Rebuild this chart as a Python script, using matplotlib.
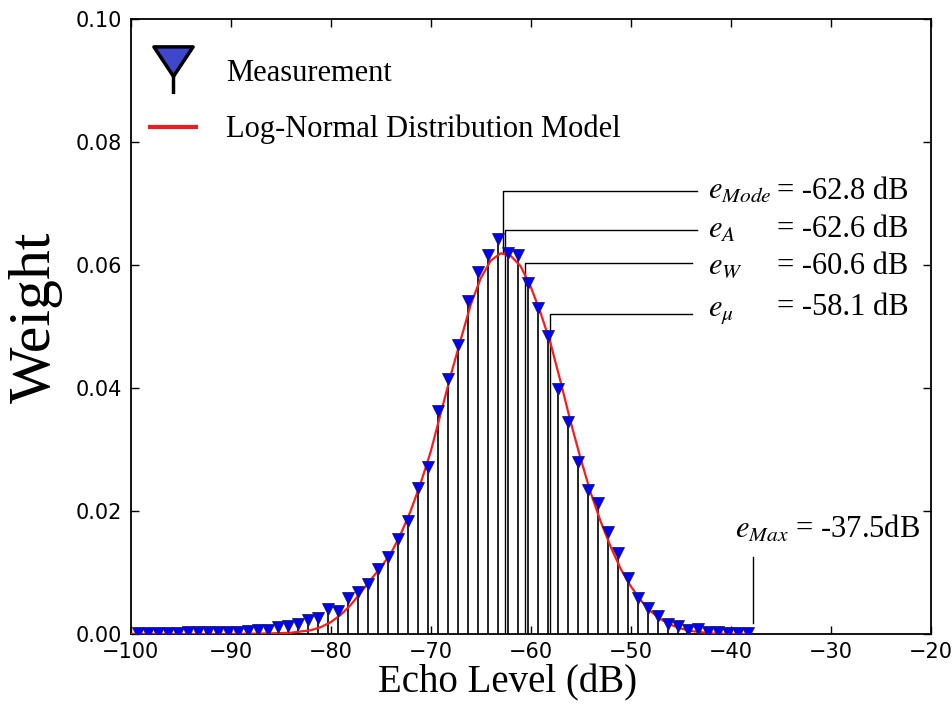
import numpy as np
import matplotlib
matplotlib.use("Agg")
from matplotlib import pyplot as plt
from matplotlib.lines import Line2D
from matplotlib.path import Path

# measured weights per echo-level bin (dB)
echo_level = [-99.3 + k for k in range(62)]
weight = [0.0002, 0.0002, 0.0002, 0.0002, 0.0002, 0.0004, 0.0004, 0.0004, 0.0004, 0.0004,
          0.0004, 0.0005, 0.0007, 0.0007, 0.0012, 0.0013, 0.0016, 0.0023, 0.0026, 0.0040,
          0.0037, 0.0058, 0.0069, 0.0081, 0.0105, 0.0126, 0.0155, 0.0184, 0.0237, 0.0272,
          0.0363, 0.0414, 0.0470, 0.0542, 0.0589, 0.0617, 0.0642, 0.0619, 0.0617, 0.0571,
          0.0530, 0.0485, 0.0399, 0.0345, 0.0279, 0.0234, 0.0213, 0.0166, 0.0131, 0.0091,
          0.0059, 0.0043, 0.0029, 0.0017, 0.0013, 0.0007, 0.0008, 0.0004, 0.0004, 0.0002,
          0.0002, 0.0002]

# log-normal model curve
model_x = [-100, -90, -86, -84, -83, -82, -81, -80, -79, -78, -77, -76, -75, -74, -73, -72,
           -71, -70, -69, -68, -67, -66, -65, -64, -63, -62, -61, -60, -59, -58, -57, -56,
           -55, -54, -53, -52, -51, -50, -49, -48, -47, -46, -45, -44, -43, -42, -40, -38.3]
model_y = [0.0, 0.0, 0.0001, 0.0002, 0.0004, 0.0006, 0.0011, 0.0019, 0.0031, 0.0047, 0.0067,
           0.0088, 0.0108, 0.0130, 0.0162, 0.0200, 0.0245, 0.0296, 0.0358, 0.0420, 0.0478,
           0.0535, 0.0578, 0.0607, 0.0619, 0.0615, 0.0598, 0.0565, 0.0522, 0.0472, 0.0410,
           0.0345, 0.0285, 0.0230, 0.0183, 0.0142, 0.0106, 0.0078, 0.0055, 0.0037, 0.0024,
           0.0015, 0.0009, 0.0005, 0.0003, 0.0001, 0.0, 0.0]

# annotated statistics
stat_names = ["$e_{Mode}$", "$e_{A}$", "$e_{W}$", "$e_{\\mu}$"]
stat_values = [-62.8, -62.6, -60.6, -58.1]
e_max = -37.5

plt.rcParams["mathtext.fontset"] = "stix"
serif = ["Liberation Serif", "DejaVu Serif"]

fig = plt.figure(figsize=(9.53, 7.11), dpi=100)
ax = fig.add_axes([0.137, 0.1083, 0.8396, 0.865])

markers, stems, base = ax.stem(echo_level, weight, linefmt="k-", markerfmt="bv", basefmt=" ")
stems.set_linewidth(1.3)
stems.set_color("#111111")
markers.set_markersize(8.5)
markers.set_markerfacecolor("#0000ff")
markers.set_markeredgecolor("#222244")
markers.set_markeredgewidth(0.6)
markers.set_zorder(4)

ax.plot(model_x, model_y, color="#ff1a1a", lw=1.6, zorder=3)

# leader lines for the statistics
line_levels = [0.0720, 0.0657, 0.0604, 0.0521]
line_bottoms = [0.0619, 0.0, 0.0, 0.0]
line_ends = [-43.4, -43.4, -43.9, -43.9]
text_base = [0.0707, 0.0645, 0.0585, 0.0518]
for name, val, lev, bot, end, tb in zip(stat_names, stat_values, line_levels,
                                         line_bottoms, line_ends, text_base):
    ax.plot([val, val, end], [bot, lev, lev], color="k", lw=1.0, zorder=2)
    ax.text(-42.3, tb, name, fontsize=22, family=serif, va="baseline", ha="left")
    ax.text(-35.4, tb, "= %.1f dB" % val, fontsize=22, family=serif, va="baseline", ha="left")

ax.plot([e_max - 0.3, e_max - 0.3], [0.0018, 0.0126], color="k", lw=1.0)
ax.text(-39.6, 0.0156, "$e_{Max}$ = %.1fdB" % e_max, fontsize=22, family=serif,
        va="baseline", ha="left")

ax.set_xlim(-100, -20)
ax.set_ylim(0, 0.10)
ax.set_xticks(np.arange(-100, -19, 10))
ax.set_yticks(np.arange(0, 0.101, 0.02))
ax.tick_params(direction="in", top=True, right=True, length=6, width=1, labelsize=15, pad=6)
for s in ax.spines.values():
    s.set_linewidth(1.3)

ax.set_xlabel("Echo Level (dB)", fontsize=28, family=serif)
ax.set_ylabel("Weight", fontsize=43, family=serif)
ax.xaxis.set_label_coords(0.471, -0.05)
ax.yaxis.set_label_coords(-0.085, 0.515)

# legend handle: triangle on a stem
verts = [(-0.83, 1), (0.83, 1), (0, -0.25), (0, 0), (0, -0.25), (0, -1)]
codes = [Path.MOVETO, Path.LINETO, Path.LINETO, Path.CLOSEPOLY, Path.MOVETO, Path.LINETO]
stem_marker = Path(verts, codes)
h1 = Line2D([], [], marker=stem_marker, ms=34, mfc="#3f48cc", mec="k", mew=2.5, ls="none")
h2 = Line2D([], [], color="#ed1c24", lw=3)
ax.legend([h1, h2], ["Measurement", "Log-Normal Distribution Model"],
          loc="upper left", bbox_to_anchor=(0.024, 0.935), frameon=False,
          prop={"family": serif, "size": 22}, handlelength=1.5, handletextpad=1.0,
          labelspacing=0.88, borderpad=0, borderaxespad=0)

plt.savefig("out.png", dpi=100)
